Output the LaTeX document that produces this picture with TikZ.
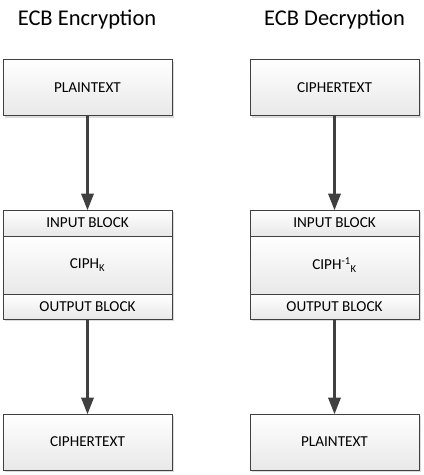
\documentclass[tikz,border=0pt]{standalone}
\usepackage{fontspec}
\setmainfont{Carlito}
\usetikzlibrary{arrows.meta,shadows}
\definecolor{edgegray}{HTML}{404040}
\tikzset{
  blk/.style={draw=edgegray, line width=0.9pt, minimum width=169pt, inner sep=0pt,
    top color=white, bottom color=black!9, font=\fontsize{15.2}{17}\selectfont,
    drop shadow={shadow xshift=2pt, shadow yshift=-2pt, fill=black!14, opacity=1}},
  flow/.style={draw=edgegray, line width=3.5pt, -{Triangle[length=17pt,width=12pt]}, shorten >=-1pt},
  ttl/.style={font=\fontsize{22.5}{26}\selectfont, inner sep=0pt}
}
\begin{document}
\begin{tikzpicture}[x=1pt,y=1pt]
\useasboundingbox (0,0) rectangle (424,-475);
\node [ttl] (enc) at (87,-20) {ECB Encryption};
\node [blk, minimum height=56pt] (plainA) at (87.5,-87.5) {PLAINTEXT};
\node [blk, minimum height=26pt] (inA) at (87.5,-223) {INPUT BLOCK};
\node [blk, minimum height=58pt] (ciphA) at (87.5,-265) {CIPH\textsubscript{K}};
\node [blk, minimum height=25pt] (outA) at (87.5,-306.5) {OUTPUT BLOCK};
\node [blk, minimum height=56pt] (cipherA) at (87.5,-442) {CIPHERTEXT};
\node [ttl] (dec) at (334.5,-20) {ECB Decryption};
\node [blk, minimum height=56pt] (cipherB) at (334.5,-87.5) {CIPHERTEXT};
\node [blk, minimum height=26pt] (inB) at (334.5,-223) {INPUT BLOCK};
\node [blk, minimum height=58pt] (ciphB) at (334.5,-265) {CIPH\textsuperscript{-1}\textsubscript{K}};
\node [blk, minimum height=25pt] (outB) at (334.5,-306.5) {OUTPUT BLOCK};
\node [blk, minimum height=56pt] (plainB) at (334.5,-442) {PLAINTEXT};
\draw [flow] (plainA) -- (inA);
\draw [flow] (outA) -- (cipherA);
\draw [flow] (cipherB) -- (inB);
\draw [flow] (outB) -- (plainB);
\end{tikzpicture}
\end{document}
